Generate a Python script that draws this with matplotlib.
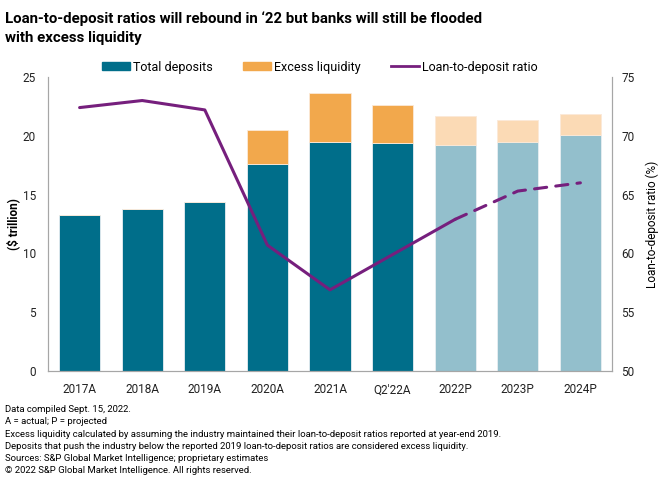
import matplotlib.pyplot as plt
from matplotlib.lines import Line2D
from matplotlib.patches import Patch

plt.rcParams["font.family"] = ["Liberation Sans Narrow", "Roboto", "DejaVu Sans"]

periods = ["2017A", "2018A", "2019A", "2020A", "2021A", "Q2'22A", "2022P", "2023P", "2024P"]
total_deposits = [13.3, 13.75, 14.4, 17.6, 19.5, 19.35, 19.2, 19.45, 20.1]
excess_liquidity = [0, 0, 0, 2.9, 4.15, 3.3, 2.5, 1.9, 1.75]
ltd_ratio = [72.4, 73.0, 72.2, 60.7, 56.9, 59.9, 62.9, 65.3, 66.0]
projected = [False, False, False, False, False, False, True, True, True]

teal, teal_light = "#006e8a", "#93bfcc"
orange, orange_light = "#f2a84c", "#fbdab5"
purple = "#761f7d"

fig = plt.figure(figsize=(6.6, 4.93), dpi=100)
ax = fig.add_axes([0.0732, 0.2475, 0.8536, 0.5963])
ax2 = ax.twinx()
ax.set_zorder(1)
ax2.set_zorder(2)
ax2.patch.set_visible(False)

x = list(range(len(periods)))
dep_colors = [teal_light if p else teal for p in projected]
exc_colors = [orange_light if p else orange for p in projected]
ax.bar(x, total_deposits, width=0.66, color=dep_colors, edgecolor="#e8eef2", linewidth=0.6)
ax.bar(x, excess_liquidity, bottom=total_deposits, width=0.66, color=exc_colors,
       edgecolor="#fbe9d8", linewidth=0.6)

# actual part solid, projected part dashed
ax2.plot(x[:7], ltd_ratio[:7], color=purple, linewidth=2.2, solid_capstyle="round")
ax2.plot(x[6:], ltd_ratio[6:], color=purple, linewidth=2.2, linestyle=(0, (4, 3)),
         dash_capstyle="round")

ax.set_xlim(-0.5, 8.5)
ax.set_ylim(0, 25)
ax2.set_ylim(50, 75)
ax.set_yticks(range(0, 26, 5))
ax2.set_yticks(range(50, 76, 5))
ax.set_xticks(x)
ax.set_xticklabels(periods)

for a in (ax, ax2):
    a.tick_params(length=0, labelsize=8.5, colors="#222222")
    a.spines["top"].set_visible(False)
    for s in ("left", "right", "bottom"):
        a.spines[s].set_color("#a6a6a6")
ax.tick_params(axis="y", pad=9)
ax2.tick_params(axis="y", pad=7)
ax.tick_params(axis="x", pad=9)

ax.set_ylabel("($ trillion)", fontsize=8.5, fontweight="bold", labelpad=2)
ax2.set_ylabel("Loan-to-deposit ratio (%)", fontsize=8.5, labelpad=8)

handles = [Patch(color=teal), Patch(color=orange), Line2D([0], [0], color=purple, linewidth=2)]
labels = ["Total deposits", "Excess liquidity", "Loan-to-deposit ratio"]
fig.legend(handles, labels, loc="center", bbox_to_anchor=(0.485, 0.864), ncol=3, frameon=False,
           fontsize=9, handlelength=2.2, handleheight=0.6, handletextpad=0.3, columnspacing=2.4)

fig.text(0.008, 0.977, "Loan-to-deposit ratios will rebound in \u201822 but banks will still be flooded\nwith excess liquidity",
         fontsize=10.8, fontweight="bold", va="top", ha="left", linespacing=1.45)

notes = ("Data compiled Sept. 15, 2022.\n"
         "A = actual; P = projected\n"
         "Excess liquidity calculated by assuming the industry maintained their loan-to-deposit ratios reported at year-end 2019.\n"
         "Deposits that push the industry below the reported 2019 loan-to-deposit ratios are considered excess liquidity.\n"
         "Sources: S&P Global Market Intelligence; proprietary estimates\n"
         "\u00a9 2022 S&P Global Market Intelligence. All rights reserved.")
fig.text(0.008, 0.178, notes, fontsize=6.8, va="top", ha="left", linespacing=1.45)

fig.savefig("out.png", dpi=100)
